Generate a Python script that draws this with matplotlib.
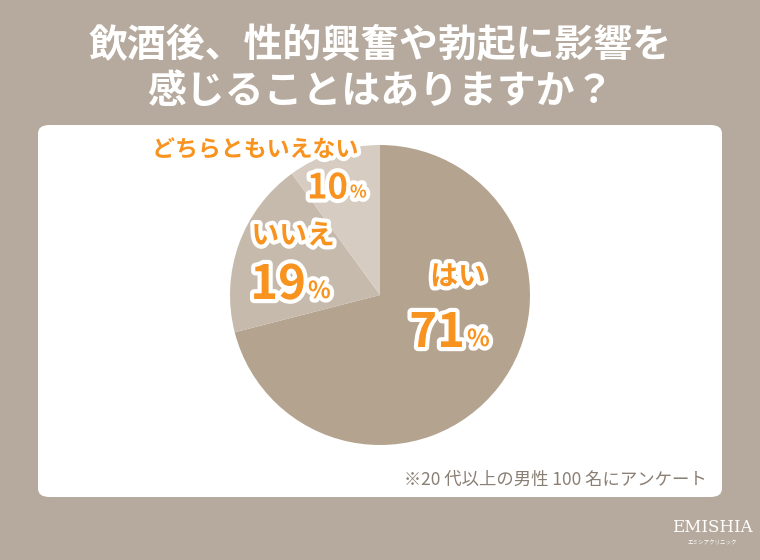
import matplotlib
matplotlib.use("Agg")
import matplotlib.pyplot as plt
import matplotlib.patheffects as pe
from matplotlib.patches import FancyBboxPatch

plt.rcParams["font.family"] = ["Noto Sans CJK JP", "DejaVu Sans"]

labels = ["はい", "いいえ", "どちらともいえない"]
values = [71, 19, 10]
colors = ["#b4a48f", "#c6baac", "#d6ccc1"]

W, H = 760, 560
BG = "#b5aa9d"
ORANGE = "#f7931e"

fig = plt.figure(figsize=(W / 100, H / 100), dpi=100, facecolor=BG)

def px(x, y):
    return x / W, 1 - y / H

# title
fig.text(*px(380, 45), "飲酒後、性的興奮や勃起に影響を", ha="center", va="center",
         fontsize=28, fontweight="bold", color="white")
fig.text(*px(380, 92), "感じることはありますか？", ha="center", va="center",
         fontsize=28, fontweight="bold", color="white")

# white card
x0, y1 = px(38, 497)
x1, y0 = px(722, 125)
card = FancyBboxPatch((x0, y1), x1 - x0, y0 - y1,
                      boxstyle="round,pad=0,rounding_size=0.015",
                      transform=fig.transFigure, facecolor="white", edgecolor="none",
                      zorder=-1)
fig.patches.append(card)

# pie
cx, cy, r = 380, 295, 150
ax = fig.add_axes([(cx - r) / W, 1 - (cy + r) / H, 2 * r / W, 2 * r / H])
ax.pie(values, colors=colors, startangle=90, counterclock=False,
       wedgeprops=dict(linewidth=0))
ax.set_xlim(-1, 1)
ax.set_ylim(-1, 1)
ax.set_aspect("equal")
ax.axis("off")

stroke = [pe.withStroke(linewidth=6, foreground="white")]

def label(x, y, s, size, ha="center"):
    fig.text(*px(x, y), s, ha=ha, va="center", fontsize=size,
             fontweight="bold", color=ORANGE, path_effects=stroke)

def pct(x, y, v, size):
    # number right-aligned at x, small % sign after it
    label(x, y, str(v), size, ha="right")
    label(x + 2, y + size * 0.18, "%", size * 0.5, ha="left")

label(458, 277, labels[0], 20)
pct(465, 333, values[0], 34)
label(293, 236, labels[1], 20)
pct(306, 285, values[1], 34)
label(255, 150, labels[2], 16.5)
pct(348, 188, values[2], 25)

fig.text(*px(555, 480), "※20 代以上の男性 100 名にアンケート", ha="center", va="center",
         fontsize=12.5, color="#8a7f74")

fig.text(*px(712, 527), "EMISHIA", ha="center", va="center", fontsize=12,
         color="white", family="DejaVu Serif")
fig.text(*px(712, 543), "エミシアクリニック", ha="center", va="center", fontsize=4,
         color="white")

fig.savefig("out.png", dpi=100, facecolor=BG)
